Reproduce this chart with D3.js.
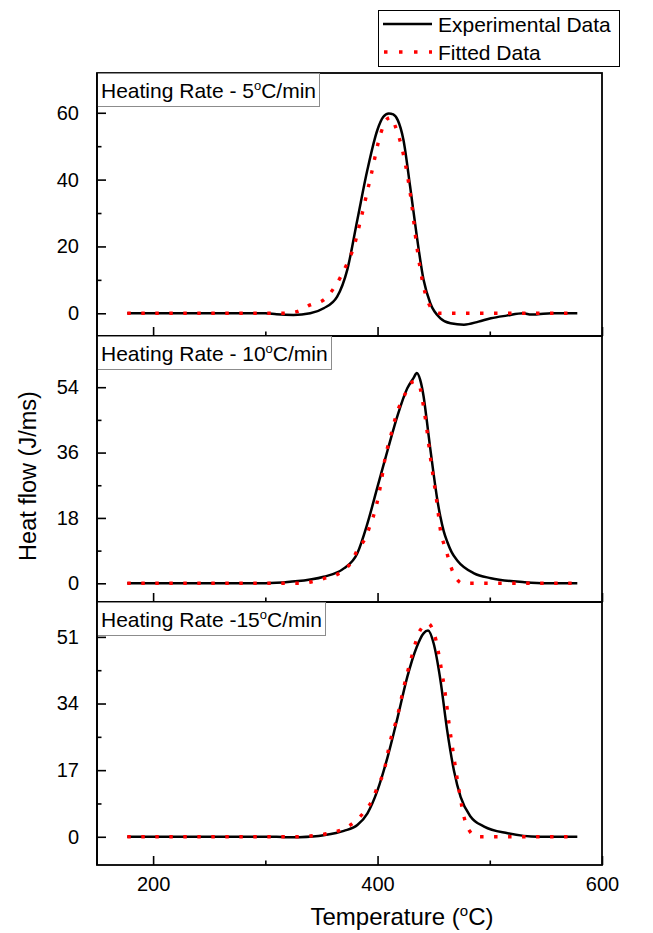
<!DOCTYPE html>
<html>
<head>
<meta charset="utf-8">
<script src="https://cdn.jsdelivr.net/npm/d3@7"></script>
<style>
  html, body { margin: 0; padding: 0; background: #fff; }
  svg { display: block; font-family: "Liberation Sans", Arial, sans-serif; }
</style>
</head>
<body>
<svg id="chart" width="653" height="933"></svg>
<script>
// ---------- DATA ----------
const panelTitles = ["Heating Rate - 5", "Heating Rate - 10", "Heating Rate -15"];
const xTicks = [200, 400, 600];
const xMinorTicks = [300, 500];
const yTicks5 = [0, 20, 40, 60];
const yMinor5 = [10, 30, 50, 70];
const yTicks10 = [0, 18, 36, 54];
const yMinor10 = [9, 27, 45, 63];
const yTicks15 = [0, 17, 34, 51];
const yMinor15 = [8.5, 25.5, 42.5, 59.5];

const exp5T = [177, 300, 310, 325, 340, 352, 364, 373, 382, 391, 400, 405, 410, 414, 418, 423, 429, 435, 441, 447, 456, 465, 477, 490, 501, 515, 530, 537, 543, 555, 578];
const exp5V = [0, 0, -0.3, -0.5, 0, 1.5, 5, 13, 28, 43, 55, 58.7, 59.8, 59.5, 57.8, 52, 38, 23, 10, 3, -1.5, -3, -3.4, -2.5, -1.5, -0.7, 0, -0.4, -0.3, 0, 0];
const fit5T = [177, 315, 328, 340, 352, 361, 373, 379, 385, 394, 403, 408, 412, 416, 423.5, 429.5, 435, 441, 447, 455, 578];
const fit5V = [0, 0, 0.5, 2.5, 4, 7.5, 15, 20, 28, 41, 54, 58, 58.6, 55.8, 46.8, 35, 20, 8, 2, 0, 0];

const exp10T = [177, 300, 322, 352, 370, 382, 391, 400, 409, 418, 426.5, 432, 435, 438, 441, 444, 447, 450, 453, 456, 459, 462, 466, 471, 486, 501, 531, 550, 578];
const exp10V = [0, 0, 0.4, 1.8, 4.1, 8.3, 16.5, 26.6, 36.7, 46.4, 53.7, 56.5, 57.9, 56, 51.5, 44.5, 37, 30, 23.5, 18.3, 14.3, 11.5, 8.6, 6.3, 2.75, 1.4, 0.3, 0, 0];
const fit10T = [177, 330, 352, 368, 377, 382, 389, 394, 398, 403, 407, 411.6, 417.6, 423.5, 429.5, 433, 437, 441, 444, 447, 450, 453, 456, 461, 467, 476, 578];
const fit10V = [0, 0, 1.3, 3.2, 6, 9.2, 12.4, 16.5, 20.2, 27.5, 34.9, 40.4, 47.3, 51.4, 55.1, 55.6, 54.6, 48.6, 42.2, 34.9, 28.5, 22, 14.7, 9.2, 3.2, 0, 0];

const exp15T = [177, 310, 320, 330, 352, 370, 382, 391, 400, 409, 418, 426.5, 435, 441, 445, 450, 456, 462, 468, 474, 483, 495, 516, 543, 578];
const exp15V = [0, 0, -0.15, -0.1, 0.4, 1.5, 3, 6, 11.9, 20.4, 30.6, 40.8, 48.5, 51.9, 52.6, 49.3, 40, 27.2, 17, 10.2, 5.1, 2.6, 0.9, 0, 0];
const fit15T = [177, 328, 340, 355, 367, 379, 388, 395, 401, 405, 411.6, 417.6, 423.5, 429.5, 438, 445, 452, 456, 460.7, 463.7, 468, 472.6, 477, 481.5, 489, 578];
const fit15V = [0, 0, 0.2, 0.8, 1.7, 3.7, 6.3, 9.2, 13.5, 16, 24.7, 30.6, 38.3, 45, 52.7, 54.4, 50.2, 44.2, 35.7, 28.9, 20.4, 11.9, 5.1, 1.7, 0, 0];

const legendLabels = ["Experimental Data", "Fitted Data"];
const xTitle = "Temperature (";
const yTitle = "Heat flow (J/ms)";

// ---------- LAYOUT ----------
const svg = d3.select("#chart");
const L = 97, R = 602;
const panels = [
  { top: 73, bottom: 336, dom: [-6.8, 71.9], ticks: yTicks5, minor: yMinor5, eT: exp5T, eV: exp5V, fT: fit5T, fV: fit5V, title: panelTitles[0], boxW: 222 },
  { top: 336, bottom: 602, dom: [-5.15, 68.1], ticks: yTicks10, minor: yMinor10, eT: exp10T, eV: exp10V, fT: fit10T, fV: fit10V, title: panelTitles[1], boxW: 234 },
  { top: 602, bottom: 865, dom: [-7.2, 59.9], ticks: yTicks15, minor: yMinor15, eT: exp15T, eV: exp15V, fT: fit15T, fV: fit15V, title: panelTitles[2], boxW: 228 }
];

const x = d3.scaleLinear().domain([150, 600]).range([L, R]);

const dotted = { stroke: "#ff0000", width: 3.4, dash: "3.5 10.5" };

panels.forEach((p, i) => {
  const y = d3.scaleLinear().domain(p.dom).range([p.bottom, p.top]);
  const g = svg.append("g");

  const clipId = "clip" + i;
  svg.append("clipPath").attr("id", clipId).append("rect")
    .attr("x", L).attr("y", p.top).attr("width", R - L).attr("height", p.bottom - p.top);

  const line = d3.line().x(d => x(d[0])).y(d => y(d[1])).curve(d3.curveMonotoneX);
  const eData = p.eT.map((t, k) => [t, p.eV[k]]);
  const fData = p.fT.map((t, k) => [t, p.fV[k]]);

  const cg = g.append("g").attr("clip-path", `url(#${clipId})`);
  cg.append("path").datum(eData).attr("d", line)
    .attr("fill", "none").attr("stroke", "#000").attr("stroke-width", 2.5).attr("stroke-linejoin", "round");
  cg.append("path").datum(fData).attr("d", line)
    .attr("fill", "none").attr("stroke", dotted.stroke).attr("stroke-width", dotted.width)
    .attr("stroke-dasharray", dotted.dash);

  const xAx = d3.axisBottom(x).tickValues(xTicks).tickSize(-9).tickFormat(i === 2 ? d3.format("d") : () => "").tickPadding(18);
  const xg = g.append("g").attr("transform", `translate(0,${p.bottom})`).call(xAx);
  const xmAx = d3.axisBottom(x).tickValues(xMinorTicks).tickSize(-4.5).tickFormat(() => "");
  const xmg = g.append("g").attr("transform", `translate(0,${p.bottom})`).call(xmAx);

  const yAx = d3.axisLeft(y).tickValues(p.ticks).tickSize(-9).tickPadding(18).tickFormat(d3.format("d"));
  const yg = g.append("g").attr("transform", `translate(${L},0)`).call(yAx);
  const ymAx = d3.axisLeft(y).tickValues(p.minor).tickSize(-4.5).tickFormat(() => "");
  const ymg = g.append("g").attr("transform", `translate(${L},0)`).call(ymAx);

  [xg, xmg, yg, ymg].forEach(a => {
    a.select(".domain").remove();
    a.selectAll(".tick line").attr("stroke", "#000").attr("stroke-width", 1.6);
    a.selectAll(".tick text").attr("font-size", 20).attr("fill", "#000")
      .attr("font-family", "'Liberation Sans', Arial, sans-serif");
  });
  xg.selectAll(".tick text").attr("dy", "0.71em").attr("y", 12);

  g.append("rect").attr("x", L).attr("y", p.top).attr("width", R - L).attr("height", p.bottom - p.top)
    .attr("fill", "none").attr("stroke", "#000").attr("stroke-width", 1.8);

  const bh = 33;
  g.append("rect").attr("x", L + 0.5).attr("y", p.top + 0.5).attr("width", p.boxW).attr("height", bh)
    .attr("fill", "#fff").attr("stroke", "#8c8c8c").attr("stroke-width", 1);
  const t = g.append("text").attr("x", L + 4).attr("y", p.top + 25).attr("font-size", 21).attr("fill", "#000");
  t.append("tspan").text(p.title);
  t.append("tspan").attr("font-size", 13).attr("dy", -8).text("o");
  t.append("tspan").attr("dy", 8).text("C/min");
  g.append("line").attr("x1", L).attr("x2", L).attr("y1", p.top).attr("y2", p.bottom)
    .attr("stroke", "#000").attr("stroke-width", 1.8);
});

// Axis titles
const xt = svg.append("text").attr("x", 402).attr("y", 925).attr("text-anchor", "middle")
  .attr("font-size", 24).attr("fill", "#000");
xt.append("tspan").text(xTitle);
xt.append("tspan").attr("font-size", 15).attr("dy", -9).text("o");
xt.append("tspan").attr("dy", 9).text("C)");

svg.append("text").attr("transform", "translate(36,476) rotate(-90)").attr("text-anchor", "middle")
  .attr("font-size", 23.5).attr("fill", "#000").text(yTitle);

// Legend
const lg = svg.append("g");
lg.append("rect").attr("x", 378.5).attr("y", 10.5).attr("width", 241).attr("height", 56)
  .attr("fill", "#fff").attr("stroke", "#000").attr("stroke-width", 1);
lg.append("line").attr("x1", 383).attr("x2", 432).attr("y1", 24).attr("y2", 24)
  .attr("stroke", "#000").attr("stroke-width", 2.5);
lg.append("line").attr("x1", 384).attr("x2", 432).attr("y1", 52).attr("y2", 52)
  .attr("stroke", dotted.stroke).attr("stroke-width", dotted.width).attr("stroke-dasharray", "3.5 11.5");
lg.append("text").attr("x", 438).attr("y", 32).attr("font-size", 21).attr("fill", "#000").text(legendLabels[0]);
lg.append("text").attr("x", 438).attr("y", 60).attr("font-size", 21).attr("fill", "#000").text(legendLabels[1]);
</script>
</body>
</html>
